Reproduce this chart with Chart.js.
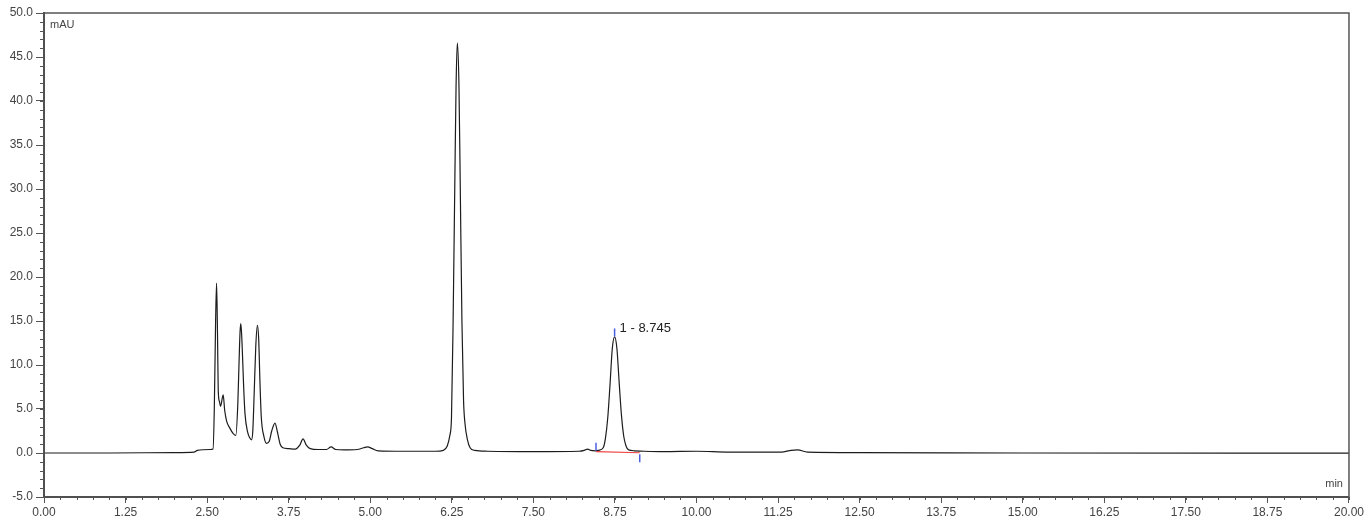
<!DOCTYPE html>
<html>
<head>
<meta charset="utf-8">
<title>Chromatogram</title>
<script src="https://cdn.jsdelivr.net/npm/chart.js@4.4.1/dist/chart.umd.min.js"></script>
<style>
  html, body { margin: 0; padding: 0; background: #fff; }
  #wrap { width: 1366px; height: 522px; }
</style>
</head>
<body>
<div id="wrap"><canvas id="chrom" width="1366" height="522"></canvas></div>
<script>
// retention time (min) and signal (mAU)
const times = [
  0, 1.0, 2.0, 2.3, 2.35, 2.55, 2.59, 2.61, 2.63, 2.645, 2.66, 2.67, 2.69, 2.705, 2.746, 2.77, 2.8, 2.85, 2.9, 2.94,
  2.97, 2.99, 3.005, 3.017, 3.035, 3.06, 3.08, 3.12, 3.155, 3.18,
  3.20, 3.22, 3.245, 3.27, 3.29, 3.31, 3.33, 3.37, 3.41,
  3.45, 3.49, 3.54, 3.58, 3.62, 3.66, 3.75, 3.85, 3.92, 3.97, 4.02, 4.08, 4.2, 4.33, 4.40, 4.47, 4.6, 4.8, 4.9, 4.96, 5.03, 5.12, 5.5, 6.0,
  6.12, 6.18, 6.22, 6.245, 6.27, 6.295, 6.315, 6.335, 6.36, 6.38, 6.405, 6.43, 6.45, 6.49, 6.53, 6.6, 6.8,
  7.5, 8.2, 8.28, 8.33, 8.38, 8.45, 8.50,
  8.57, 8.605, 8.64, 8.675, 8.71, 8.745, 8.78, 8.815, 8.85, 8.885, 8.92, 8.96, 9.05, 9.2,
  9.5, 10.0, 10.5, 11.3, 11.45, 11.55, 11.7, 12.5, 15.0, 20.0
];
const mAU = [
  0.0, 0.0, 0.05, 0.1, 0.3, 0.4, 0.45, 5.0, 15.0, 19.3, 13.0, 7.2, 5.8, 5.3, 6.6, 4.8, 3.6, 2.8, 2.2, 2.0,
  5.5, 10.5, 13.8, 14.7, 12.5, 7.5, 4.5, 2.4, 1.7, 1.5,
  2.5, 6.5, 12.0, 14.5, 13.0, 8.0, 4.1, 1.9, 1.1,
  1.3, 2.5, 3.4, 2.3, 1.0, 0.6, 0.5, 0.45, 0.9, 1.6, 0.9, 0.5, 0.4, 0.4, 0.7, 0.4, 0.35, 0.4, 0.6, 0.7, 0.5, 0.25, 0.2, 0.2,
  0.3, 0.8, 2.0, 4.0, 15.0, 30.0, 41.6, 46.6, 41.6, 30.0, 15.0, 6.0, 3.5, 1.5, 0.6, 0.3, 0.2,
  0.15, 0.2, 0.3, 0.45, 0.3, 0.25, 0.3,
  0.6, 1.7, 4.0, 7.8, 11.9, 13.2, 11.9, 8.0, 4.3, 1.9, 0.8, 0.35, 0.25, 0.2,
  0.15, 0.2, 0.1, 0.1, 0.3, 0.35, 0.1, 0.05, 0.0, -0.02
];

// integration of peak 1
const baseTimes = [8.46, 9.13];
const baseValues = [0.15, 0.03];
const markTimes = [8.46, 8.745, 9.13];
const markValues = [0.7, 13.7, -0.6];
const peakName = '1 - 8.745';
const peakTime = 8.745;
const peakHeight = 13.2;

const xTicks = { min: 0, max: 20, step: 1.25, minor: 0.25 };
const yTicks = { min: -5, max: 50, step: 5, minor: 1 };

const trace = times.map((t, i) => ({ x: t, y: mAU[i] }));
const baseline = baseTimes.map((t, i) => ({ x: t, y: baseValues[i] }));
const marks = markTimes.map((t, i) => ({ x: t, y: markValues[i] }));

const FONT = '"Liberation Sans", Arial, sans-serif';

// frame, minor ticks and text labels
const decor = {
  id: 'decor',
  afterDraw(chart) {
    const { ctx, chartArea: a, scales } = chart;
    const xs = scales.x, ys = scales.y;
    ctx.save();
    ctx.strokeStyle = '#555';
    ctx.lineWidth = 1.5;
    ctx.strokeRect(a.left, a.top, a.right - a.left, a.bottom - a.top);

    ctx.lineWidth = 1;
    ctx.strokeStyle = '#555';
    ctx.beginPath();
    for (let v = xTicks.min; v <= xTicks.max + 1e-9; v += xTicks.minor) {
      const px = Math.round(xs.getPixelForValue(v)) + 0.5;
      ctx.moveTo(px, a.bottom);
      ctx.lineTo(px, a.bottom + 3);
    }
    for (let v = yTicks.min; v <= yTicks.max + 1e-9; v += yTicks.minor) {
      const py = Math.round(ys.getPixelForValue(v)) + 0.5;
      ctx.moveTo(a.left, py);
      ctx.lineTo(a.left - 4, py);
    }
    ctx.stroke();

    ctx.fillStyle = '#444';
    ctx.font = '11px ' + FONT;
    ctx.textBaseline = 'top';
    ctx.textAlign = 'left';
    ctx.fillText('mAU', a.left + 6, a.top + 6);
    ctx.textAlign = 'right';
    ctx.textBaseline = 'bottom';
    ctx.fillText('min', a.right - 6, a.bottom - 8);

    ctx.fillStyle = '#222';
    ctx.font = '13px ' + FONT;
    ctx.textAlign = 'left';
    ctx.textBaseline = 'alphabetic';
    ctx.fillText(peakName, xs.getPixelForValue(peakTime) + 5, ys.getPixelForValue(peakHeight) - 5);
    ctx.restore();
  }
};

new Chart(document.getElementById('chrom'), {
  type: 'line',
  data: {
    datasets: [
      {
        data: trace,
        borderColor: '#1c1c1c',
        borderWidth: 1.2,
        pointRadius: 0,
        cubicInterpolationMode: 'monotone',
        order: 2
      },
      {
        data: baseline,
        borderColor: '#f04040',
        borderWidth: 1.2,
        pointRadius: 0,
        order: 1
      },
      {
        data: marks,
        showLine: false,
        pointStyle: 'line',
        rotation: 90,
        pointRadius: 4,
        borderColor: '#4a5ee0',
        borderWidth: 1.5,
        order: 0
      }
    ]
  },
  options: {
    responsive: false,
    animation: false,
    events: [],
    layout: { padding: { top: 13, right: 16, left: 0, bottom: 0 } },
    plugins: { legend: { display: false }, tooltip: { enabled: false } },
    scales: {
      x: {
        type: 'linear',
        min: xTicks.min,
        max: xTicks.max,
        afterFit(s) { s.height = 25; },
        ticks: {
          stepSize: xTicks.step,
          autoSkip: false,
          maxRotation: 0,
          padding: 2,
          color: '#444',
          font: { family: FONT, size: 12 },
          callback: v => v.toFixed(2)
        },
        grid: { drawOnChartArea: false, tickLength: 6, color: '#555' },
        border: { color: '#444', width: 2 }
      },
      y: {
        min: yTicks.min,
        max: yTicks.max,
        afterFit(s) { s.width = 44; },
        ticks: {
          stepSize: yTicks.step,
          padding: 3,
          color: '#444',
          font: { family: FONT, size: 12 },
          callback: v => v.toFixed(1)
        },
        grid: { drawOnChartArea: false, tickLength: 8, color: '#555' },
        border: { color: '#444', width: 2 }
      }
    }
  },
  plugins: [decor]
});
</script>
</body>
</html>
